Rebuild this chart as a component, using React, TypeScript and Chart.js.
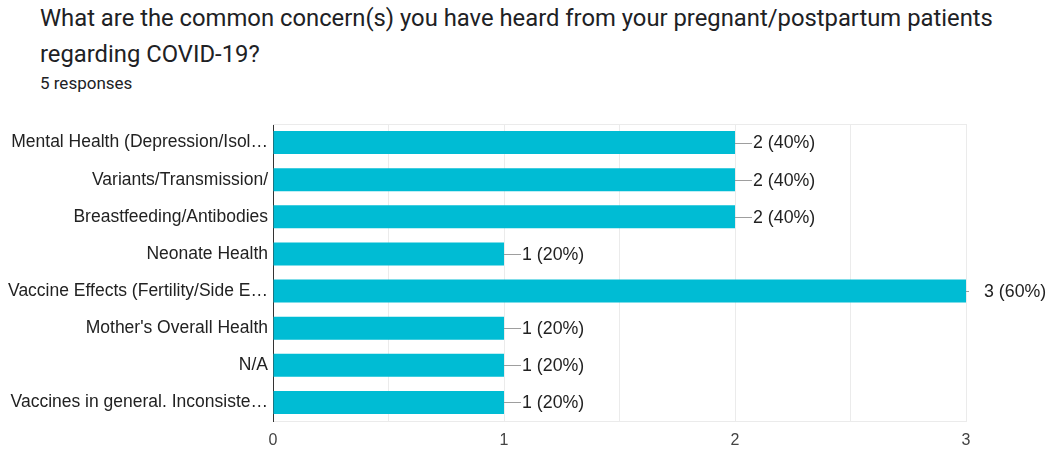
import React, { useEffect, useRef } from "react";
import { Chart, registerables } from "chart.js";

Chart.register(...registerables);

const TITLE_LINE_1 = "What are the common concern(s) you have heard from your pregnant/postpartum patients";
const TITLE_LINE_2 = "regarding COVID-19?";
const SUBTITLE = "5 responses";

const categories = [
  "Mental Health (Depression/Isol…",
  "Variants/Transmission/",
  "Breastfeeding/Antibodies",
  "Neonate Health",
  "Vaccine Effects (Fertility/Side E…",
  "Mother's Overall Health",
  "N/A",
  "Vaccines in general. Inconsiste…",
];
const counts = [2, 2, 2, 1, 3, 1, 1, 1];
const percents = ["40%", "40%", "40%", "20%", "60%", "20%", "20%", "20%"];
const xTickValues = [0, 1, 2, 3];

const FONT = "'Liberation Sans', Arial, sans-serif";

const valueLabels = {
  id: "valueLabels",
  afterDatasetsDraw(chart: any) {
    const { ctx, chartArea } = chart;
    const meta = chart.getDatasetMeta(0);
    ctx.save();
    ctx.font = `17.8px ${FONT}`;
    ctx.textBaseline = "middle";
    ctx.textAlign = "left";
    meta.data.forEach((bar: any, i: number) => {
      const x = bar.x;
      const y = bar.y;
      ctx.strokeStyle = "#9e9e9e";
      ctx.lineWidth = 1;
      ctx.beginPath();
      ctx.moveTo(x, Math.round(y) + 0.5);
      ctx.lineTo(Math.min(x + 17, chartArea.right + 3), Math.round(y) + 0.5);
      ctx.stroke();
      ctx.fillStyle = "#222222";
      ctx.fillText(`${counts[i]} (${percents[i]})`, x + 18, y + 1);
    });
    ctx.restore();
  },
};

const frameLines = {
  id: "frameLines",
  beforeDatasetsDraw(chart: any) {
    const { ctx, chartArea } = chart;
    ctx.save();
    ctx.strokeStyle = "#ebebeb";
    ctx.lineWidth = 1;
    ctx.beginPath();
    ctx.moveTo(chartArea.left, chartArea.top + 0.5);
    ctx.lineTo(chartArea.right, chartArea.top + 0.5);
    ctx.stroke();
    ctx.restore();
  },
};

export default function App() {
  const ref = useRef<HTMLCanvasElement | null>(null);
  useEffect(() => {
    if (!ref.current) return;
    const chart = new Chart(ref.current, {
      type: "bar",
      data: {
        labels: categories,
        datasets: [
          {
            data: counts,
            backgroundColor: "#00bcd4",
            borderWidth: 0,
            barPercentage: 0.62,
            categoryPercentage: 1,
          },
        ],
      },
      options: {
        indexAxis: "y",
        animation: false,
        responsive: false,
        maintainAspectRatio: false,
        layout: { padding: { left: 0, right: 82, top: 124, bottom: 0 } },
        plugins: {
          legend: { display: false },
          tooltip: { enabled: false },
          title: { display: false },
        },
        scales: {
          x: {
            min: 0,
            max: 3,
            afterFit(scale: any) {
              scale.height = 29;
            },
            afterBuildTicks(scale: any) {
              const t: any[] = [];
              for (let v = 0; v <= 3; v += 0.5) t.push({ value: v });
              scale.ticks = t;
            },
            grid: { color: "#ebebeb", drawTicks: false, lineWidth: 1 },
            border: { display: true, color: "#ebebeb" },
            ticks: {
              padding: 10,
              color: "#444444",
              font: { family: FONT, size: 16 },
              maxRotation: 0,
              autoSkip: false,
              callback: (v: any) => (xTickValues.includes(Number(v)) ? String(v) : ""),
            },
          },
          y: {
            afterFit(scale: any) {
              scale.width = 273;
            },
            grid: { display: false, drawTicks: false },
            border: { display: true, color: "#333333", width: 1 },
            ticks: {
              padding: 5,
              color: "#222222",
              font: { family: FONT, size: 17.5 },
              autoSkip: false,
            },
          },
        },
      },
      plugins: [frameLines, valueLabels],
    });
    return () => chart.destroy();
  }, []);

  return (
    <div style={{ position: "absolute", left: 0, top: 0, width: 1048, height: 450, background: "#fff" }}>
      <div
        style={{
          position: "absolute",
          left: 40,
          top: 0,
          fontFamily: "Roboto, 'Noto Sans', sans-serif",
          fontSize: 23.8,
          lineHeight: "36px",
          color: "#202124",
          whiteSpace: "nowrap",
        }}
      >
        <div>{TITLE_LINE_1}</div>
        <div>{TITLE_LINE_2}</div>
      </div>
      <div
        style={{
          position: "absolute",
          left: 40,
          top: 72,
          fontFamily: "Roboto, 'Noto Sans', sans-serif",
          fontSize: 17,
          lineHeight: "22px",
          color: "#202124",
        }}
      >
        {SUBTITLE}
      </div>
      <canvas ref={ref} width={1048} height={450} style={{ position: "absolute", left: 0, top: 0 }} />
    </div>
  );
}
